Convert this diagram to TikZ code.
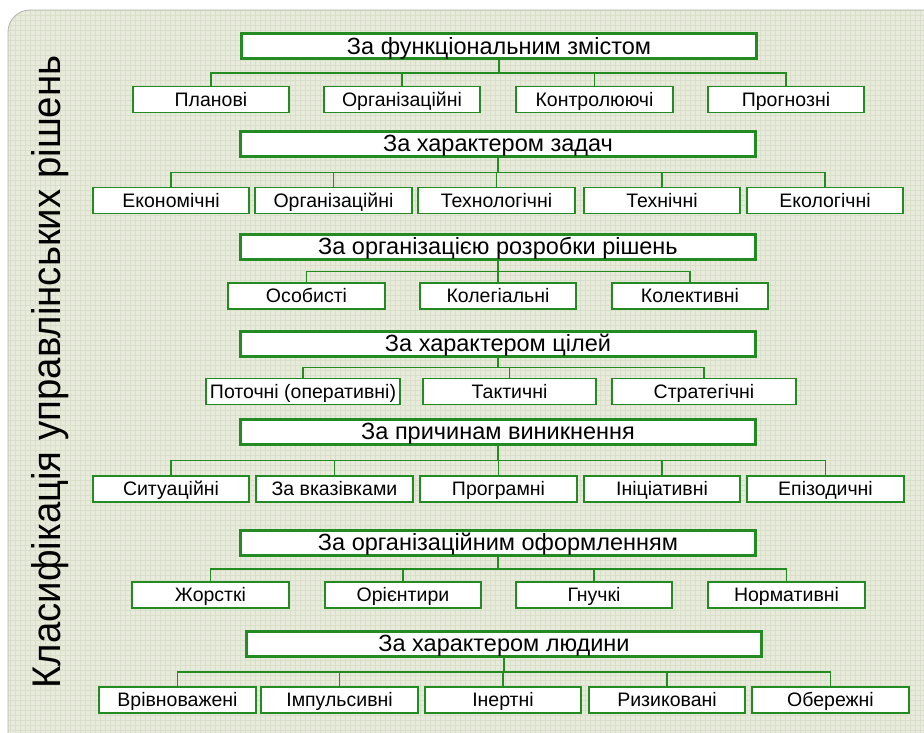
\documentclass[tikz,border=0pt]{standalone}
\usepackage{fontspec}
\setmainfont{Liberation Sans}
\usetikzlibrary{calc}

\definecolor{panelbg}{RGB}{232,235,219}
\definecolor{panelgrid}{RGB}{218,223,202}
\definecolor{boxgreen}{RGB}{34,139,34}

\tikzset{
  header/.style={draw=boxgreen, line width=3pt, fill=white, minimum width=515pt,
    minimum height=25pt, inner sep=0pt, text height=16.5pt, text depth=1pt,
    font=\fontsize{23.5}{26}\selectfont},
  item/.style={draw=boxgreen, line width=1.6pt, fill=white, minimum width=156.5pt,
    minimum height=26pt, inner sep=0pt, text height=14.5pt, text depth=1pt,
    font=\fontsize{19.5}{22}\selectfont},
  link/.style={draw=boxgreen, line width=1.4pt}
}

\begin{document}
\begin{tikzpicture}[x=1pt,y=-1pt]
            \useasboundingbox (0,0) rectangle (924,733);
            % panel
            \begin{scope}
                \clip[rounded corners=22pt] (8,10) rectangle (960,770);
                \fill[panelbg] (0,0) rectangle (924,733);
                \draw[panelgrid, line width=0.6pt, step=5pt] (0,0) grid (924,733);
            \end{scope}
            \draw[gray!60, line width=0.8pt, rounded corners=22pt] (8,10) rectangle (960,770);
            \node[rotate=90, anchor=base, font=\fontsize{40}{46}\selectfont] (title) at (60,372) {\scalebox{0.96}[1]{Класифікація управлінських рішень}};
            % groups
            \node[header] (h1) at (499,46.5) {За функціональним змістом};
            \node[header] (h2) at (498,144) {За характером задач};
            \node[header] (h3) at (498,247) {За організацією розробки рішень};
            \node[header] (h4) at (498,343.5) {За характером цілей};
            \node[header] (h5) at (498,432) {За причинам виникнення};
            \node[header] (h6) at (498,542.5) {За організаційним оформленням};
            \node[header] (h7) at (504,644) {За характером людини};
            % kinds
            \node[item] (a1) at (211,99.5) {Планові};
            \node[item] (a2) at (402,99.5) {Організаційні};
            \node[item] (a3) at (594.5,99.5) {Контролюючі};
            \node[item] (a4) at (786,99.5) {Прогнозні};
            \node[item] (b1) at (171,200.5) {Економічні};
            \node[item] (b2) at (333.5,200.5) {Організаційні};
            \node[item] (b3) at (496.5,200.5) {Технологічні};
            \node[item] (b4) at (662,200.5) {Технічні};
            \node[item] (b5) at (825,200.5) {Екологічні};
            \node[item] (c1) at (306.5,296) {Особисті};
            \node[item] (c2) at (498,296) {Колегіальні};
            \node[item] (c3) at (690,296) {Колективні};
            \node[item, minimum width=194.5pt] (d1) at (303,391.5) {Поточні (оперативні)};
            \node[item, minimum width=173.5pt] (d2) at (509.5,391.5) {Тактичні};
            \node[item, minimum width=184.5pt] (d3) at (704,391.5) {Стратегічні};
            \node[item] (e1) at (171,489) {Ситуаційні};
            \node[item] (e2) at (334.5,489) {За вказівками};
            \node[item] (e3) at (498.5,489) {Програмні};
            \node[item] (e4) at (662,489) {Ініціативні};
            \node[item] (e5) at (825.5,489) {Епізодичні};
            \node[item] (f1) at (210.5,595) {Жорсткі};
            \node[item] (f2) at (403,595) {Орієнтири};
            \node[item] (f3) at (594,595) {Гнучкі};
            \node[item] (f4) at (786.5,595) {Нормативні};
            \node[item] (g1) at (177.5,700) {Врівноважені};
            \node[item] (g2) at (339.5,700) {Імпульсивні};
            \node[item] (g3) at (503,700) {Інертні};
            \node[item] (g4) at (667,700) {Ризиковані};
            \node[item] (g5) at (830.5,700) {Обережні};
            % connectors
            \foreach \h/\k in {h1/a1,h1/a2,h1/a3,h1/a4,h2/b1,h2/b2,h2/b3,h2/b4,h2/b5,
                h3/c1,h3/c2,h3/c3,h4/d1,h4/d2,h4/d3,h5/e1,h5/e2,h5/e3,h5/e4,h5/e5,
                h6/f1,h6/f2,h6/f3,h6/f4,h7/g1,h7/g2,h7/g3,h7/g4,h7/g5}
                \draw[link] (\h.south) |- ($(\h.south)!.5!(\k.north)$) -| (\k.north);
        \end{tikzpicture}
\end{document}
